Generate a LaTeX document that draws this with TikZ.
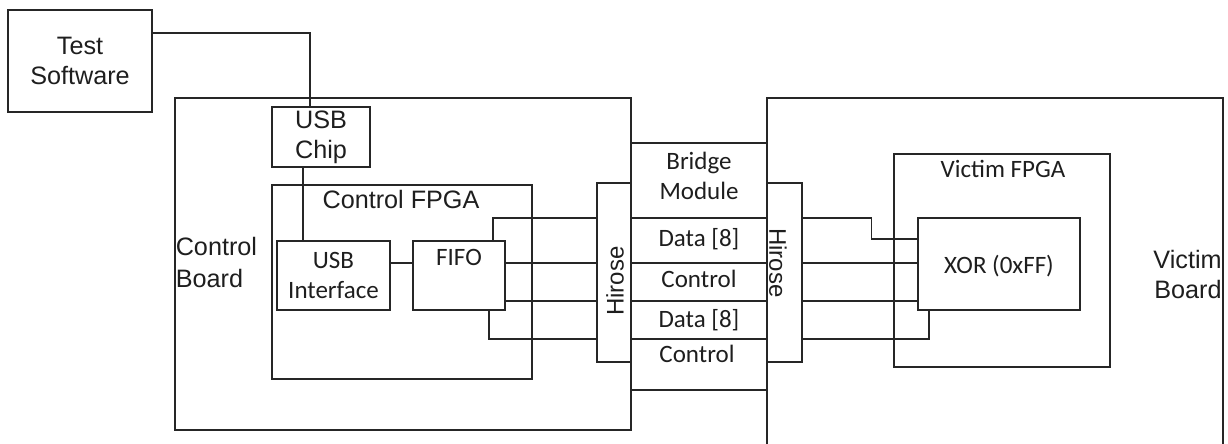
\documentclass[tikz,border=0pt]{standalone}
\usepackage{fontspec}
\setmainfont{Liberation Sans}
\newfontfamily\calibri{Carlito}
\usetikzlibrary{calc,positioning}
\definecolor{dgInk}{HTML}{262626}
\definecolor{dgText}{HTML}{1E1E1E}
\tikzset{
 layout/.style={line cap=butt,line join=miter,text=dgText,font=\fontsize{12.6}{15}\selectfont},
 block/.style={rectangle,draw=dgInk,line width=.6pt,inner sep=0pt,align=center},
 wire/.style={draw=dgInk,line width=.6pt},
 tag/.style={inner sep=0pt,align=center,font=\fontsize{12.6}{15}\selectfont},
 ctag/.style={tag,font=\calibri\fontsize{12.5}{15}\selectfont},
 sidetag/.style={tag,align=left,anchor=west,font=\fontsize{12.6}{16}\selectfont}
}
\begin{document}
\begin{tikzpicture}[layout,x=.5pt,y=-.5pt]
 \useasboundingbox (0,0) rectangle (1228,444);
 \clip (0,0) rectangle (1228,444);
 % boards and chips
 \node[block,minimum width=72pt,minimum height=51pt] (ts) at (80,61) {Test\\Software};
 \node[block,minimum width=228pt,minimum height=166pt] (ctrlboard) at (403,264) {};
 \node[block,minimum width=49pt,minimum height=30pt] (usbchip) at (321,137) {USB\\Chip};
 \node[block,minimum width=130pt,minimum height=97pt] (ctrlfpga) at (402,282) {};
 \node[block,font=\calibri\fontsize{12.5}{15}\selectfont,minimum width=56.5pt,minimum height=34.5pt] (usbif) at (333.5,275.5) {USB\\Interface};
 \node[block,minimum width=46pt,minimum height=34.5pt] (fifo) at (459,275.5) {};
 \node[block,minimum width=17pt,minimum height=89.5pt] (hiroseL) at (614,272.5) {};
 \node[block,minimum width=68pt,minimum height=123.5pt] (bridge) at (699,266.5) {};
 \node[block,minimum width=17.5pt,minimum height=89.5pt] (hiroseR) at (784.5,272.5) {};
 \node[block,minimum width=228pt,minimum height=191pt] (victimboard) at (995,289) {};
 \node[block,minimum width=108pt,minimum height=106.5pt] (victimfpga) at (1002,260.5) {};
 \node[block,minimum width=81pt,minimum height=46pt] (xor) at (999,264) {};
 % labels
 \node[sidetag] (ctrlboardtag) at ($(ctrlboard.west)+(1,-2)$) {Control\\Board};
 \node[tag,anchor=base] (ctrlfpgatag) at (401,209) {Control FPGA};
 \node[ctag,anchor=base] (fifotag) at (459,265) {FIFO};
 \node[tag,rotate=90,font=\fontsize{12}{15}\selectfont] (hiroseLtag) at (615,281) {Hirose};
 \node[tag,rotate=-90,font=\fontsize{12}{15}\selectfont] (hiroseRtag) at (778,263) {Hirose};
 \node[ctag] (bridgetag) at (699,176) {Bridge\\Module};
 \node[ctag,anchor=base] (dataAtag) at (699,247) {Data [8]};
 \node[ctag,anchor=base] (ctrlAtag) at (699,287) {Control};
 \node[ctag,anchor=base] (dataBtag) at (699,328) {Data [8]};
 \node[ctag,anchor=base] (ctrlBtag) at (697,363) {Control};
 \node[ctag,anchor=base] (victimfpgatag) at (1003,178) {Victim FPGA};
 \node[ctag] (xortag) at (999,266) {XOR (0xFF)};
 \node[tag,align=right,anchor=east] (victimboardtag) at (1222,274) {Victim\\Board};
 % signal rows
 \coordinate (rowA) at (0,218); \coordinate (rowB) at (0,263);
 \coordinate (rowC) at (0,301); \coordinate (rowD) at (0,339);
 \coordinate (tap) at ($(usbchip.south)+(-18,0)$);
 % connections
 \draw[wire] ($(ts.east)+(0,-28)$) -| ($(usbchip.north)+(-11,0)$);
 \draw[wire] (tap) -- (tap |- usbif.north);
 \draw[wire] (usbif.east |- rowB) -- (fifo.west |- rowB);
 \draw[wire] ($(fifo.north)+(34,0)$) |- (hiroseL.west |- rowA);
 \draw[wire] (fifo.east |- rowB) -- (hiroseL.west |- rowB);
 \draw[wire] (fifo.east |- rowC) -- (hiroseL.west |- rowC);
 \draw[wire] ($(fifo.south)+(30,0)$) |- (hiroseL.west |- rowD);
 \foreach \r in {rowA,rowB,rowC,rowD}
  \draw[wire] (bridge.west |- \r) -- (bridge.east |- \r);
 \draw[wire] (hiroseR.east |- rowA) -| ($(xor.west)+(-46,-25)$) -- ($(xor.west)+(0,-25)$);
 \draw[wire] (hiroseR.east |- rowB) -- (xor.west |- rowB);
 \draw[wire] (hiroseR.east |- rowC) -- (xor.west |- rowC);
 \draw[wire] (hiroseR.east |- rowD) -| ($(xor.south)+(-70,0)$);
\end{tikzpicture}
\end{document}
